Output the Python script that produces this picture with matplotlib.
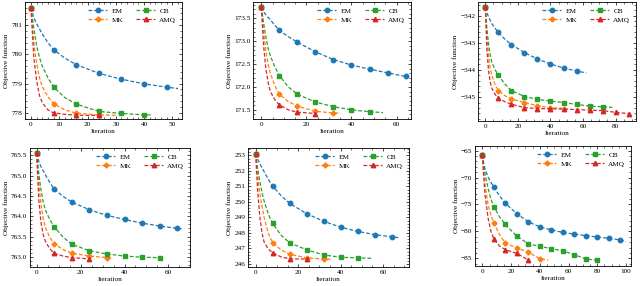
import matplotlib
matplotlib.use("Agg")
import matplotlib.pyplot as plt
from matplotlib.ticker import AutoMinorLocator, MultipleLocator, FuncFormatter

plt.rcParams["font.family"] = ["Liberation Serif", "DejaVu Serif"]
plt.rcParams["font.size"] = 5.2
plt.rcParams["xtick.direction"] = "in"
plt.rcParams["ytick.direction"] = "in"
plt.rcParams["xtick.top"] = True
plt.rcParams["ytick.right"] = True
plt.rcParams["xtick.major.size"] = 2.5
plt.rcParams["ytick.major.size"] = 2.5
plt.rcParams["xtick.minor.size"] = 1.3
plt.rcParams["ytick.minor.size"] = 1.3
plt.rcParams["xtick.minor.visible"] = True
plt.rcParams["ytick.minor.visible"] = True
plt.rcParams["axes.linewidth"] = 0.6

methods = ["EM", "MK", "CB", "AMQ"]
colors = {"EM": "#1f77b4", "MK": "#ff7f0e", "CB": "#2ca02c", "AMQ": "#d62728"}
markers = {"EM": "o", "MK": "P", "CB": "s", "AMQ": "^"}

# panel 1
p1_iter = {
    "EM": [0, 1, 2, 4, 6, 8, 12, 16, 24, 32, 40, 48, 52],
    "MK": [0, 1, 2, 3, 4, 6, 8, 12, 16, 24, 30],
    "CB": [0, 1, 2, 3, 4, 6, 8, 12, 16, 24, 32, 40, 43],
    "AMQ": [0, 1, 2, 3, 4, 6, 8, 12, 16, 24],
}
p1_val = {
    "EM": [781.6, 781.25, 781.05, 780.7, 780.4, 780.16, 779.87, 779.65, 779.35, 779.15, 778.99, 778.88, 778.83],
    "MK": [781.6, 780.4, 779.7, 779.2, 778.9, 778.55, 778.31, 778.1, 777.99, 777.93, 777.92],
    "CB": [781.6, 780.9, 780.3, 779.9, 779.6, 779.2, 778.88, 778.52, 778.30, 778.05, 777.98, 777.93, 777.93],
    "AMQ": [781.6, 779.9, 779.1, 778.6, 778.35, 778.1, 778.0, 777.95, 777.92, 777.91],
}

# panel 2
p2_iter = {
    "EM": [0, 1, 2, 4, 6, 8, 12, 16, 24, 32, 40, 48, 56, 64],
    "MK": [0, 1, 2, 3, 4, 6, 8, 12, 16, 24, 32, 35],
    "CB": [0, 1, 2, 3, 4, 6, 8, 12, 16, 24, 32, 40, 48, 54],
    "AMQ": [0, 1, 2, 3, 4, 6, 8, 12, 16, 24],
}
p2_val = {
    "EM": [173.75, 173.65, 173.58, 173.47, 173.35, 173.24, 173.1, 172.98, 172.77, 172.60, 172.48, 172.39, 172.31, 172.23],
    "MK": [173.75, 173.2, 172.8, 172.5, 172.3, 172.03, 171.84, 171.68, 171.58, 171.47, 171.43, 171.43],
    "CB": [173.75, 173.4, 173.1, 172.85, 172.68, 172.44, 172.25, 172.0, 171.84, 171.67, 171.57, 171.50, 171.46, 171.44],
    "AMQ": [173.75, 172.9, 172.4, 172.1, 171.9, 171.72, 171.61, 171.5, 171.45, 171.42],
}

# panel 3
p3_iter = {
    "EM": [0, 1, 2, 4, 6, 8, 12, 16, 24, 32, 40, 48, 56, 62],
    "MK": [0, 1, 2, 3, 4, 6, 8, 12, 16, 24, 32, 40, 50],
    "CB": [0, 1, 2, 3, 4, 6, 8, 12, 16, 24, 32, 40, 48, 56, 64, 72, 78],
    "AMQ": [0, 1, 2, 3, 4, 6, 8, 12, 16, 24, 32, 40, 48, 56, 64, 72, 80, 88],
}
p3_val = {
    "EM": [-341.7, -341.9, -342.05, -342.3, -342.47, -342.62, -342.87, -343.07, -343.36, -343.6, -343.78, -343.93, -344.04, -344.11],
    "MK": [-341.7, -342.8, -343.5, -343.95, -344.2, -344.55, -344.76, -344.95, -345.07, -345.2, -345.32, -345.39, -345.42],
    "CB": [-341.7, -342.5, -343.05, -343.45, -343.72, -344.0, -344.19, -344.52, -344.76, -344.98, -345.08, -345.15, -345.2, -345.27, -345.33, -345.36, -345.38],
    "AMQ": [-341.7, -343.3, -344.05, -344.45, -344.68, -344.9, -345.04, -345.17, -345.26, -345.39, -345.42, -345.43, -345.44, -345.46, -345.48, -345.5, -345.56, -345.61],
}

# panel 4
p4_iter = {
    "EM": [0, 1, 2, 4, 6, 8, 12, 16, 24, 32, 40, 48, 56, 64, 66],
    "MK": [0, 1, 2, 3, 4, 6, 8, 12, 16, 24, 32, 35],
    "CB": [0, 1, 2, 3, 4, 6, 8, 12, 16, 24, 32, 40, 48, 56],
    "AMQ": [0, 1, 2, 3, 4, 6, 8, 12, 16, 24],
}
p4_val = {
    "EM": [765.55, 765.35, 765.22, 765.02, 764.83, 764.67, 764.49, 764.35, 764.16, 764.02, 763.92, 763.83, 763.76, 763.70, 763.69],
    "MK": [765.55, 764.8, 764.3, 763.95, 763.72, 763.48, 763.32, 763.18, 763.09, 763.02, 762.98, 762.97],
    "CB": [765.55, 765.05, 764.65, 764.35, 764.15, 763.92, 763.74, 763.49, 763.31, 763.15, 763.07, 763.02, 762.99, 762.98],
    "AMQ": [765.55, 764.4, 763.85, 763.55, 763.38, 763.2, 763.09, 763.02, 762.98, 762.95],
}

# panel 5
p5_iter = {
    "EM": [0, 1, 2, 4, 6, 8, 12, 16, 24, 32, 40, 48, 56, 64, 68],
    "MK": [0, 1, 2, 3, 4, 6, 8, 12, 16, 24, 32, 36],
    "CB": [0, 1, 2, 3, 4, 6, 8, 12, 16, 24, 32, 40, 48, 55],
    "AMQ": [0, 1, 2, 3, 4, 6, 8, 12, 16, 24],
}
p5_val = {
    "EM": [253.12, 252.75, 252.45, 251.95, 251.45, 251.03, 250.4, 249.91, 249.24, 248.75, 248.37, 248.1, 247.89, 247.75, 247.68],
    "MK": [253.12, 251.6, 250.5, 249.7, 249.0, 247.95, 247.36, 246.9, 246.62, 246.39, 246.31, 246.3],
    "CB": [253.12, 252.1, 251.3, 250.6, 250.05, 249.2, 248.61, 247.85, 247.36, 246.91, 246.58, 246.43, 246.39, 246.36],
    "AMQ": [253.12, 250.6, 249.0, 248.0, 247.4, 246.95, 246.72, 246.45, 246.33, 246.31],
}

# panel 6
p6_iter = {
    "EM": [0, 1, 2, 4, 6, 8, 12, 16, 24, 32, 40, 48, 56, 64, 72, 80, 88, 96, 100],
    "MK": [0, 1, 2, 4, 6, 8, 12, 16, 24, 32, 40, 46],
    "CB": [0, 1, 2, 4, 6, 8, 12, 16, 24, 32, 40, 48, 56, 64, 72, 80],
    "AMQ": [0, 1, 2, 4, 6, 8, 12, 16, 24, 32, 33],
}
p6_val = {
    "EM": [-65.78, -67.5, -68.5, -69.9, -70.9, -71.78, -73.4, -74.78, -76.7, -78.2, -79.16, -79.7, -80.18, -80.48, -80.78, -81.02, -81.26, -81.56, -81.86],
    "MK": [-65.78, -69.0, -71.5, -75.0, -77.0, -78.38, -80.6, -82.16, -83.06, -83.84, -85.04, -85.3],
    "CB": [-65.78, -67.8, -69.5, -72.0, -74.0, -75.38, -77.3, -78.68, -80.9, -82.28, -82.76, -83.18, -83.6, -84.28, -85.12, -85.3],
    "AMQ": [-65.78, -70.0, -73.5, -77.5, -80.0, -81.38, -82.7, -83.36, -84.08, -85.28, -85.3],
}

panels = [
    (p1_iter, p1_val, [25, 2, 182, 119], (-2.1, 53.4), (777.79, 781.79), 10, 1, 0),
    (p2_iter, p2_val, [253, 2, 411, 119], (-3.7, 66.4), (171.3, 173.86), 20, 0.5, 1),
    (p3_iter, p3_val, [478, 2, 636, 121], (-4.5, 92.5), (-345.88, -341.5), 20, 1, 0),
    (p4_iter, p4_val, [30, 148, 190, 267], (-3.0, 69.8), (762.75, 765.68), 20, 0.5, 1),
    (p5_iter, p5_val, [248, 148, 409, 267], (-3.6, 72.2), (245.8, 253.48), 20, 1, 0),
    (p6_iter, p6_val, [475, 146, 631, 266], (-5.1, 103.5), (-86.4, -64.16), 20, 5, 0),
]


def tick_fmt(decimals):
    def f(v, pos):
        s = "%.*f" % (decimals, v)
        return s.replace("-", "\u2212")
    return FuncFormatter(f)


W, H = 640, 286
fig = plt.figure(figsize=(6.4, 2.86), dpi=100)

for iters, vals, box, xl, yl, xstep, ystep, dec in panels:
    x0, y0, x1, y1 = box
    ax = fig.add_axes([x0 / W, (H - y1) / H, (x1 - x0) / W, (y1 - y0) / H])
    for m in methods:
        it = iters[m]
        mask = [i % 8 == 0 for i in it]
        ax.plot(it, vals[m], linestyle="--", dashes=(3, 1.6), color=colors[m],
                marker=markers[m], markevery=mask, markersize=3.2, linewidth=0.9,
                label=m)
    ax.set_xlim(*xl)
    ax.set_ylim(*yl)
    ax.xaxis.set_major_locator(MultipleLocator(xstep))
    ax.yaxis.set_major_locator(MultipleLocator(ystep))
    ax.xaxis.set_minor_locator(AutoMinorLocator())
    ax.yaxis.set_minor_locator(AutoMinorLocator())
    ax.xaxis.set_major_formatter(tick_fmt(0))
    ax.yaxis.set_major_formatter(tick_fmt(dec))
    ax.tick_params(labelsize=5.2, width=0.5, pad=2)
    ax.tick_params(which="minor", width=0.4)
    ax.set_xlabel("Iteration", fontsize=5.2, labelpad=1.5)
    ax.set_ylabel("Objective function", fontsize=5.2, labelpad=1.5)
    ax.legend(loc="upper right", ncol=2, frameon=False, fontsize=5.2,
              handlelength=2.6, columnspacing=1.8, handletextpad=0.6,
              labelspacing=0.4, borderaxespad=0.4)

fig.savefig("out.png", dpi=100)
